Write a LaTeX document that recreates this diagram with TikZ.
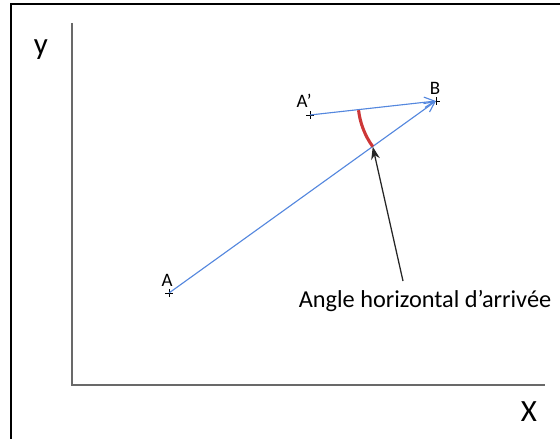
\documentclass[tikz,border=0pt]{standalone}
\usepackage{fontspec}
\setmainfont{Carlito}
\usepackage{xcolor}
\usetikzlibrary{arrows.meta,positioning,calc}
\definecolor{vecblue}{RGB}{84,135,222}
\definecolor{arcred}{RGB}{205,55,55}
\definecolor{axisgray}{RGB}{105,105,105}
\newcommand{\ptcross}[1]{\draw[line width=0.7pt] ([xshift=-2.8pt]#1) -- ([xshift=2.8pt]#1) ([yshift=-2.8pt]#1) -- ([yshift=2.8pt]#1);}

\begin{document}
\begin{tikzpicture}[
  x=0.025cm, y=-0.025cm,
  frame/.style={line width=1.4pt, black},
  axis/.style={line width=1.3pt, axisgray},
  axislabel/.style={font=\fontsize{22}{24}\selectfont, inner sep=0pt},
  ptlabel/.style={font=\fontsize{13.5}{15}\selectfont, inner sep=0pt},
  vec/.style={vecblue, line width=0.8pt, -{Straight Barb[length=2.6mm, width=2.6mm]}},
  anglearc/.style={arcred, line width=2.2pt},
  pointer/.style={line width=0.9pt, black!85, -{Stealth[length=3.2mm, width=2.2mm]}},
  caption/.style={font=\fontsize{17.3}{20}\selectfont, inner sep=0pt}
]
  \useasboundingbox (0,0) rectangle (560,439);
  \draw[frame] (11,439) -- (11,4) -- (560,4);

  % axes
  \coordinate (O) at (72,385);
  \coordinate (Ytop) at (72,23);
  \coordinate (Xend) at (545,385);
  \draw[axis] (Ytop) -- (O) -- (Xend);
  \node[axislabel] (ylab) at (41,50) {y};
  \node[axislabel] (xlab) at (529,412) {X};

  % points
  \coordinate (A) at (169,293);
  \coordinate (Ap) at (310,115);
  \coordinate (B) at (436,101);
  \ptcross{A} \ptcross{Ap} \ptcross{B}
  \node[ptlabel] (Alab) at (167,280) {A};
  \node[ptlabel] (Aplab) at (304,101) {A’};
  \node[ptlabel] (Blab) at (435,88) {B};

  \draw[vec] (A) -- (B);
  \draw[vec] (Ap) -- (B);

  % arrival angle
  \draw[anglearc] ($(B)+(173.2:78)$) arc[start angle=173.2, end angle=144.2, radius=78];
  \coordinate (arcend) at ($(B)+(144.2:78)$);

  \node[caption] (cap) at (425,301) {Angle horizontal d’arrivée};
  \coordinate (ptr) at (403,281);
  \draw[pointer] (ptr) -- (arcend);
\end{tikzpicture}
\end{document}
